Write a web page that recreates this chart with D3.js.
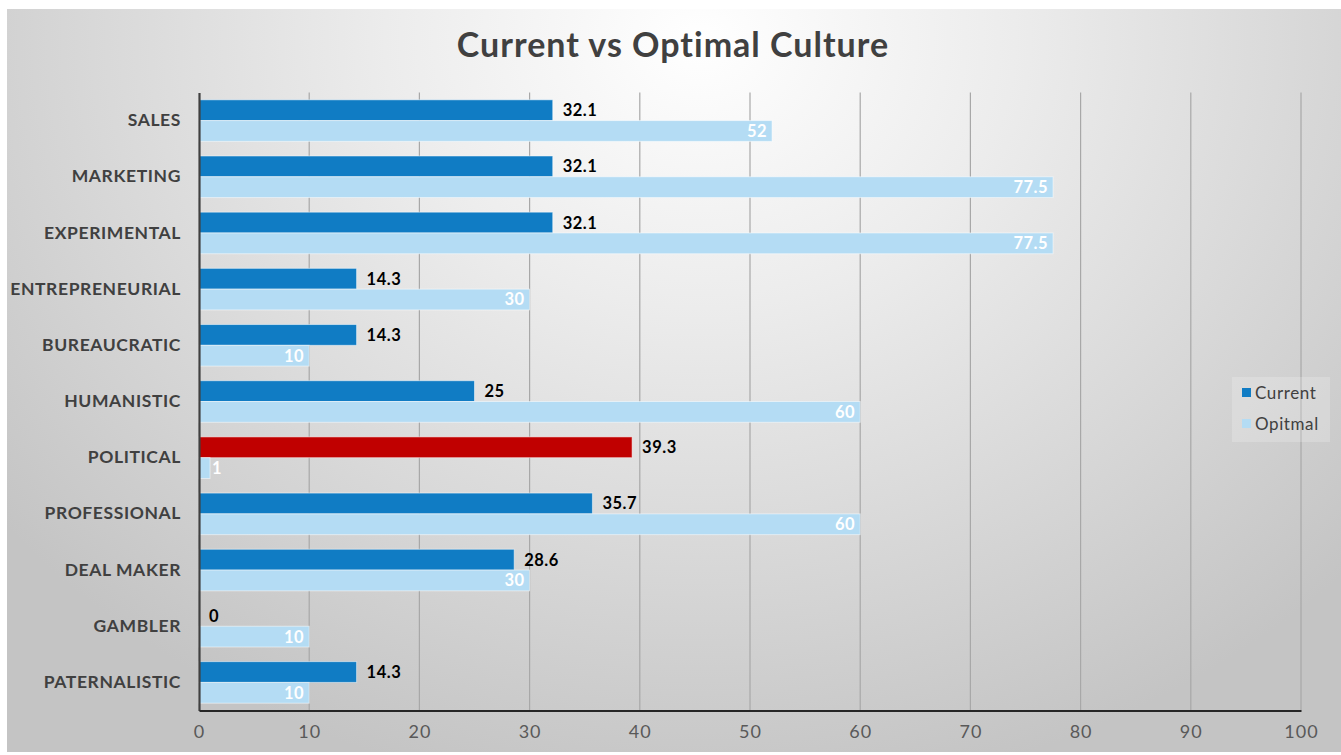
<!DOCTYPE html>
<html>
<head>
<meta charset="utf-8">
<script src="https://cdn.jsdelivr.net/npm/d3@7"></script>
<style>
  html, body { margin: 0; padding: 0; background: #ffffff; }
  svg { display: block; }
</style>
</head>
<body>
<svg id="chart" width="1341" height="755"></svg>
<script>
// Culture types, top to bottom
const categories = ["SALES", "MARKETING", "EXPERIMENTAL", "ENTREPRENEURIAL", "BUREAUCRATIC",
  "HUMANISTIC", "POLITICAL", "PROFESSIONAL", "DEAL MAKER", "GAMBLER", "PATERNALISTIC"];
const currentValues = [32.1, 32.1, 32.1, 14.3, 14.3, 25, 39.3, 35.7, 28.6, 0, 14.3];
const optimalValues = [52, 77.5, 77.5, 30, 10, 60, 1, 60, 30, 10, 10];
const seriesNames = ["Current", "Opitmal"];
const xTicks = [0, 10, 20, 30, 40, 50, 60, 70, 80, 90, 100];
const highlighted = ["POLITICAL"];

const W = 1341, H = 755;
const svg = d3.select("#chart");
const FONT = "Lato, 'Open Sans', sans-serif";

// Background panel with a soft radial light
const defs = svg.append("defs");
const rg = defs.append("radialGradient").attr("id", "bg")
  .attr("gradientUnits", "userSpaceOnUse")
  .attr("cx", 700).attr("cy", 40).attr("r", 900)
  .attr("gradientTransform", "translate(700,40) scale(1,0.85) translate(-700,-40)");
rg.append("stop").attr("offset", "0").attr("stop-color", "#ffffff");
rg.append("stop").attr("offset", "0.35").attr("stop-color", "#ececec");
rg.append("stop").attr("offset", "1").attr("stop-color", "#c4c4c4");

svg.append("rect").attr("x", 7).attr("y", 9).attr("width", W - 7).attr("height", 743)
  .attr("fill", "url(#bg)");

const x = d3.scaleLinear().domain([0, 100]).range([199, 1301]);
const y = d3.scaleBand().domain(categories).range([92.5, 710.5]).paddingInner(0.26).paddingOuter(0.13);
const ySub = d3.scaleBand().domain(seriesNames).range([0, y.bandwidth()]);

const colors = { Current: "#107cc4", Opitmal: "#b4dcf4" };
const red = "#c00000";

// Vertical gridlines
svg.append("g").selectAll("line").data(xTicks.slice(1)).join("line")
  .attr("x1", d => x(d)).attr("x2", d => x(d))
  .attr("y1", 92.5).attr("y2", 710.5)
  .attr("stroke", "#a8a8a8").attr("stroke-width", 1.2);

// Bars
const rows = categories.map((c, i) => ({ c, cur: currentValues[i], opt: optimalValues[i] }));
const g = svg.append("g");
rows.forEach(r => {
  const y0 = y(r.c);
  g.append("rect")
    .attr("x", x(0)).attr("y", y0 + ySub("Current"))
    .attr("width", x(r.cur) - x(0)).attr("height", ySub.bandwidth())
    .attr("fill", highlighted.includes(r.c) ? red : colors.Current)
    .attr("stroke", "#ffffff").attr("stroke-opacity", 0.5).attr("stroke-width", 1);
  g.append("rect")
    .attr("x", x(0)).attr("y", y0 + ySub("Opitmal"))
    .attr("width", x(r.opt) - x(0)).attr("height", ySub.bandwidth())
    .attr("fill", colors.Opitmal)
    .attr("stroke", "#ffffff").attr("stroke-opacity", 0.5).attr("stroke-width", 1);

  // Current value label, outside the bar end
  g.append("text")
    .attr("x", x(r.cur) + 10).attr("y", y0 + ySub("Current") + ySub.bandwidth() / 2)
    .attr("dy", "0.36em")
    .attr("font-family", FONT).attr("font-weight", 700).attr("font-size", 16.5)
    .attr("letter-spacing", "0.5px")
    .attr("fill", "#000000")
    .text(r.cur);

  // Optimal value label, inside the bar end
  const narrow = x(r.opt) - x(0) < 20;
  g.append("text")
    .attr("x", narrow ? x(r.opt) + 2 : x(r.opt) - 5)
    .attr("y", y0 + ySub("Opitmal") + ySub.bandwidth() / 2)
    .attr("dy", "0.36em")
    .attr("text-anchor", narrow ? "start" : "end")
    .attr("font-family", FONT).attr("font-weight", 700).attr("font-size", 16.5)
    .attr("letter-spacing", "0.5px")
    .attr("fill", "#ffffff")
    .text(r.opt);
});

// Category axis
const yAxis = svg.append("g").attr("transform", `translate(${x(0)},0)`)
  .call(d3.axisLeft(y).tickSize(0).tickPadding(18));
yAxis.select(".domain").attr("stroke", "#404040").attr("stroke-width", 2.2);
yAxis.selectAll("text").attr("font-family", FONT).attr("font-weight", 700)
  .attr("font-size", 17.5).attr("fill", "#404040").attr("letter-spacing", "0.6px");

// Value axis
const xAxis = svg.append("g").attr("transform", "translate(0,710.5)")
  .call(d3.axisBottom(x).tickValues(xTicks).tickSize(0).tickPadding(15));
xAxis.select(".domain").attr("stroke", "#262626").attr("stroke-width", 2);
xAxis.selectAll("text").attr("font-family", FONT).attr("font-weight", 400)
  .attr("font-size", 18).attr("letter-spacing", "1px").attr("fill", "#595959");

// Title
svg.append("text").attr("x", 673).attr("y", 57).attr("text-anchor", "middle")
  .attr("font-family", FONT).attr("font-weight", 700).attr("font-size", 34)
  .attr("letter-spacing", "1px")
  .attr("fill", "#404040").text("Current vs Optimal Culture");

// Legend
const lg = svg.append("g").attr("transform", "translate(1232,377)");
lg.append("rect").attr("width", 98).attr("height", 65).attr("fill", "#ffffff").attr("opacity", 0.2);
seriesNames.forEach((s, i) => {
  const row = lg.append("g").attr("transform", `translate(10,${16 + i * 31})`);
  row.append("rect").attr("x", 0).attr("y", -5).attr("width", 9).attr("height", 9)
    .attr("fill", colors[s]);
  row.append("text").attr("x", 13).attr("y", 0).attr("dy", "0.36em")
    .attr("font-family", FONT).attr("font-size", 17).attr("letter-spacing", "0.6px")
    .attr("fill", "#404040").text(s);
});
</script>
</body>
</html>
